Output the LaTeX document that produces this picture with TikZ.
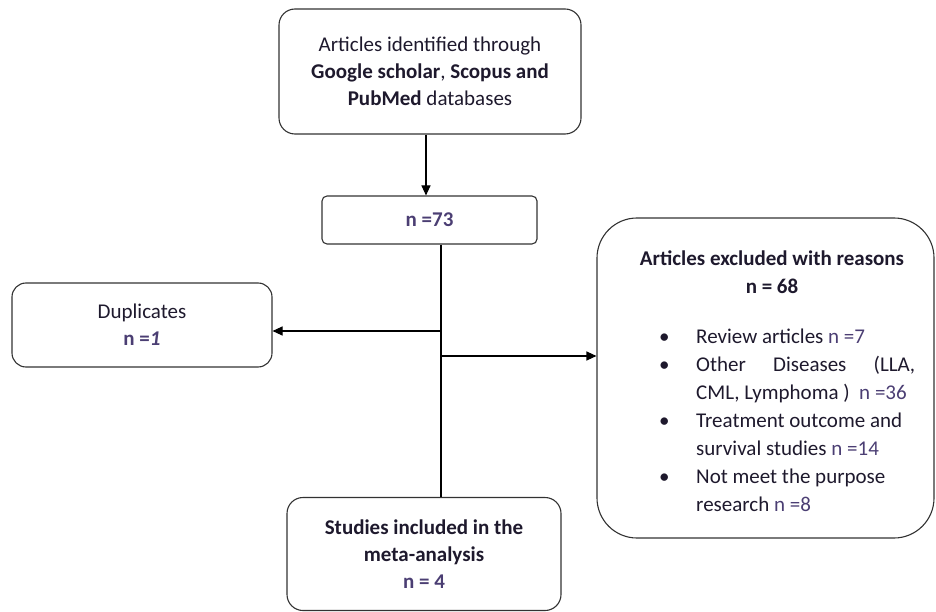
\documentclass[tikz,border=0pt]{standalone}
\usepackage{fontspec}
\setmainfont{Carlito}
\usetikzlibrary{arrows.meta}
\definecolor{txt}{RGB}{30,25,45}
\definecolor{nclr}{RGB}{75,62,115}
\definecolor{edge}{RGB}{50,50,50}
\tikzset{
  boxbase/.style={draw=edge, line width=1.1pt, align=center, text=txt,
    font=\fontsize{21}{27}\selectfont, inner sep=0pt},
  arr/.style={draw=black, line width=1.1pt, -{Triangle[length=10pt,width=9pt]}},
  ln/.style={draw=black, line width=1.1pt},
}
\begin{document}
\begin{tikzpicture}[x=1pt,y=-1pt]
\useasboundingbox (0,0) rectangle (936,612);
% boxes
\node[boxbase, rounded corners=16pt, minimum width=302pt, minimum height=125pt] (src) at (430,71.5)
  {Articles identified through\\ \textbf{Google scholar}, \textbf{Scopus and}\\ \textbf{PubMed} databases};
\node[boxbase, rounded corners=5pt, minimum width=215pt, minimum height=48pt] (tot) at (429.5,220)
  {\textcolor{nclr}{\textbf{n =73}}};
\node[boxbase, rounded corners=14pt, minimum width=260pt, minimum height=84pt] (dup) at (142,325)
  {Duplicates\\ \textcolor{nclr}{\textbf{n =\textit{1}}}};
\node[boxbase, rounded corners=16pt, minimum width=274pt, minimum height=113pt] (inc) at (424,554)
  {\textbf{Studies included in the}\\ \textbf{meta-analysis}\\ \textcolor{nclr}{\textbf{n = 4}}};
\node[boxbase, rounded corners=40pt, minimum width=337pt, minimum height=320pt] (exc) at (765.5,378) {};
% text inside the exclusion box
\node[text=txt, font=\fontsize{21}{28}\selectfont\bfseries, align=center, inner sep=0pt] (exct) at (772,272)
  {Articles excluded with reasons\\ n = 68};
\node[text=txt, font=\fontsize{21}{28}\selectfont, anchor=west, inner sep=0pt] (rsn) at (659,421.5)
  {\begin{tabular}{@{}p{37pt}@{}p{219pt}@{}}
   \textbullet & Review articles \textcolor{nclr}{n =7}\\
   \textbullet & \makebox[219pt][s]{Other Diseases (LLA,}\\
               & CML, Lymphoma )\ \ \textcolor{nclr}{n =36}\\
   \textbullet & Treatment outcome and\\
               & survival studies \textcolor{nclr}{n =14}\\
   \textbullet & Not meet the purpose\\
               & research \textcolor{nclr}{n =8}
   \end{tabular}};
% connectors
\coordinate (j1) at (441,331);
\coordinate (j2) at (441,356);
\draw[arr] (src.south -| 426,0) -- (tot.north -| 426,0);
\draw[ln] (tot.south -| j1) -- (inc.north -| j1);
\draw[arr] (j1) -- (dup.east |- j1);
\draw[arr] (j2) -- (exc.west |- j2);
\end{tikzpicture}
\end{document}
